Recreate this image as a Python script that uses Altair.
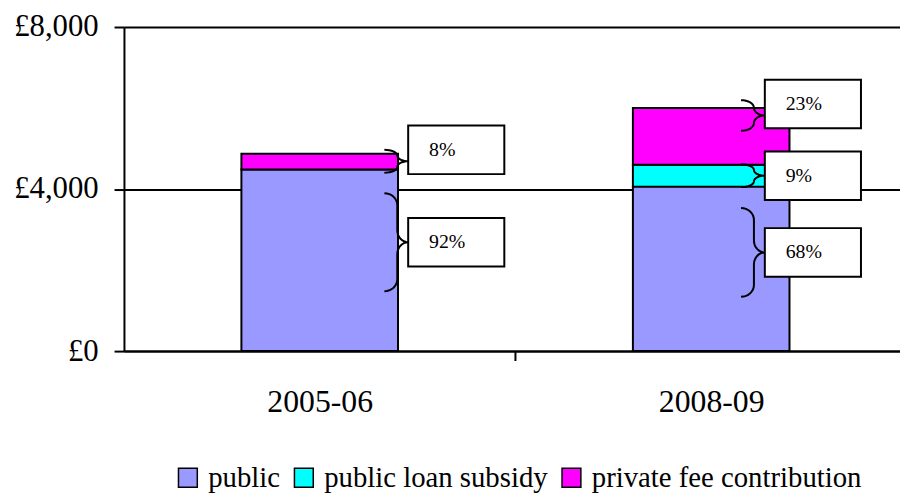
import json
import math
import altair as alt
import pandas as pd

# ---------------- data ----------------
categories = ["2005-06", "2008-09"]
components = ["public", "public loan subsidy", "private fee contribution"]
public = [4480, 4060]
loan_subsidy = [0, 540]
private_fee = [390, 1400]
colors = ["#9999FF", "#00FFFF", "#FF00FF"]
y_ticks = [0, 4000, 8000]

# ---------------- layout / style ----------------
W, H = 783, 327
STEP_PX = 395
XMAX = W / STEP_PX
YMAX = 8000
PX_X = XMAX / W
PX_Y = YMAX / H
BAR_HALF = 0.2
BOX_LEFT_OFFSET = [0.226, 0.137]
BOX_W_PX, BOX_H_PX = 97, 49
FONT = "'Liberation Serif', 'Times New Roman', Times, serif"

series = [public, loan_subsidy, private_fee]

bar_rows, box_rows, brace_rows = [], [], []
for i, cat in enumerate(categories):
    vals = [s[i] for s in series]
    total = sum(vals)
    nz = [j for j, v in enumerate(vals) if v > 0]
    cum = 0
    for j, v in enumerate(vals):
        if v <= 0:
            continue
        y0, y1 = cum, cum + v
        cum = y1
        bar_rows.append(dict(cat=cat, comp=components[j], order=j,
                             x=i + 0.5 - BAR_HALF, x2=i + 0.5 + BAR_HALF,
                             y=y0, y2=y1))
        pct = int(round(v / total * 100))
        mid = (y0 + y1) / 2
        if j == nz[0]:
            box_c = y0 + 0.6 * v
            brace_c = box_c
        elif j == nz[-1]:
            box_c = y1 + 4 * PX_Y
            k = 11.5 * PX_Y
            brace_c = min(max(mid, box_c - k), box_c + k)
        else:
            box_c = mid
            brace_c = box_c
        brace_h = max(0.27 * v, 11.5 * PX_Y)
        box_left = i + 0.5 + BOX_LEFT_OFFSET[i]
        box_rows.append(dict(label=f"{pct}%",
                             x=box_left, x2=box_left + BOX_W_PX * PX_X,
                             y=box_c - BOX_H_PX / 2 * PX_Y,
                             y2=box_c + BOX_H_PX / 2 * PX_Y,
                             tx=box_left + 21 * PX_X, ty=box_c))
        # brace path, pixel offsets relative to box left / brace centre
        hp = brace_h / PX_Y
        ry = min(12.0, hp / 2)
        xe, xv, xt = -24.0, -11.0, 0.0
        rx1, rx2 = xv - xe, xt - xv
        pts = []
        n = 8
        for t in range(n + 1):
            th = math.radians(-90 + 90 * t / n)
            pts.append((xe + rx1 * math.cos(th), -hp + ry + ry * math.sin(th)))
        for t in range(n + 1):
            th = math.radians(180 - 90 * t / n)
            pts.append((xt + rx2 * math.cos(th), -ry + ry * math.sin(th)))
        for t in range(n + 1):
            th = math.radians(-90 - 90 * t / n)
            pts.append((xt + rx2 * math.cos(th), ry + ry * math.sin(th)))
        for t in range(n + 1):
            th = math.radians(90 * t / n)
            pts.append((xe + rx1 * math.cos(th), hp - ry + ry * math.sin(th)))
        bid = f"{cat}-{j}"
        for k_, (px, py) in enumerate(pts):
            brace_rows.append(dict(bid=bid, k=k_,
                                   x=box_left + px * PX_X,
                                   y=brace_c - py * PX_Y))

bars_df = pd.DataFrame(bar_rows)
box_df = pd.DataFrame(box_rows)
brace_df = pd.DataFrame(brace_rows)
sep_df = pd.DataFrame({"x": [float(b) for b in range(1, len(categories))]})

xscale = alt.Scale(domain=[0, XMAX], nice=False, zero=False)
yscale = alt.Scale(domain=[0, YMAX], nice=False)
label_expr = f"{json.dumps(categories)}[floor(datum.value)]"
xaxis = alt.Axis(values=[i + 0.5 for i in range(len(categories))],
                 labelExpr=label_expr, title=None, ticks=False, grid=False,
                 domainColor="black", domainWidth=2, labelFont=FONT,
                 labelFontSize=32, labelColor="black", labelPadding=36,
                 labelFlush=False)
yaxis = alt.Axis(values=y_ticks, labelExpr="'£' + format(datum.value, ',')",
                 title=None, grid=True, gridColor="black", gridWidth=2,
                 domainColor="black", domainWidth=2, tickColor="black",
                 tickWidth=2, tickSize=10, labelFont=FONT, labelFontSize=31,
                 labelColor="black", labelPadding=16)


def X(f):
    return alt.X(f"{f}:Q", scale=xscale, axis=xaxis)


def Y(f):
    return alt.Y(f"{f}:Q", scale=yscale, axis=yaxis)


bars = alt.Chart(bars_df).mark_rect(stroke="black", strokeWidth=2).encode(
    x=X("x"), x2="x2", y=Y("y"), y2="y2",
    color=alt.Color("comp:N", scale=alt.Scale(domain=components, range=colors),
                    legend=alt.Legend(orient="none", legendX=50, legendY=440,
                                      direction="horizontal", title=None,
                                      symbolType="square", symbolSize=361,
                                      symbolStrokeColor="black",
                                      symbolStrokeWidth=1.5,
                                      labelFont=FONT, labelFontSize=29,
                                      labelColor="black", labelOffset=6,
                                      columnPadding=9, padding=0,
                                      labelLimit=0)),
)

braces = alt.Chart(brace_df).mark_line(color="black", strokeWidth=2).encode(
    x=X("x"), y=Y("y"), detail="bid:N", order="k:Q")

boxes = alt.Chart(box_df).mark_rect(fill="white", stroke="black",
                                    strokeWidth=2).encode(
    x=X("x"), x2="x2", y=Y("y"), y2="y2")

texts = alt.Chart(box_df).mark_text(align="left", baseline="middle",
                                    font=FONT, fontSize=20,
                                    color="black").encode(
    x=X("tx"), y=Y("ty"), text="label:N")

sep = alt.Chart(sep_df).mark_rule(color="black", strokeWidth=2).encode(
    x=X("x"), y=alt.value(H), y2=alt.value(H + 10))

chart = alt.layer(bars, braces, boxes, texts, sep).properties(
    width=W, height=H,
    autosize=alt.AutoSizeParams(type="none"),
    padding={"left": 117, "top": 17, "right": 0, "bottom": 142},
).configure_view(stroke=None).configure(font=FONT)

chart.save("out.html", embed_options={"renderer": "svg", "actions": False})
